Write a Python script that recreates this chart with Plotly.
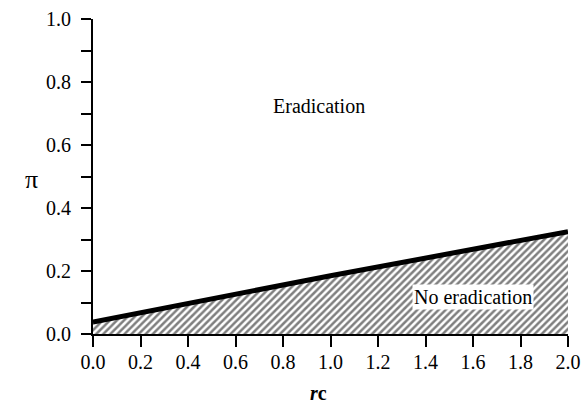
import plotly.graph_objects as go

# data
rc_boundary = [0.0, 1.0, 2.0]
pi_boundary = [0.038, 0.185, 0.325]
x_ticks = [0.0, 0.2, 0.4, 0.6, 0.8, 1.0, 1.2, 1.4, 1.6, 1.8, 2.0]
y_ticks = [0.0, 0.2, 0.4, 0.6, 0.8, 1.0]
region_labels = ["Eradication", "No eradication"]
region_x = [0.95, 1.6]
region_y = [0.725, 0.117]

FONT = "Liberation Serif"

fig = go.Figure()

# hatched region under the boundary
fig.add_trace(go.Scatter(
    x=[rc_boundary[0]] + rc_boundary + [rc_boundary[-1]],
    y=[0.0] + pi_boundary + [0.0],
    fill="toself", mode="none",
    fillcolor="white",
    fillpattern=dict(shape="/", fgcolor="black", bgcolor="white", size=5, solidity=0.5),
    hoverinfo="skip", showlegend=False,
))

# boundary line
fig.add_trace(go.Scatter(
    x=rc_boundary, y=pi_boundary, mode="lines",
    line=dict(color="black", width=5),
    showlegend=False,
))

# region labels
fig.add_annotation(x=region_x[0], y=region_y[0], text=region_labels[0], showarrow=False,
                   font=dict(family=FONT, size=20, color="black"))
fig.add_annotation(x=region_x[1], y=region_y[1], text=region_labels[1], showarrow=False,
                   font=dict(family=FONT, size=20, color="black"), bgcolor="white", borderpad=1)

# axis titles
fig.add_annotation(xref="paper", yref="paper", x=-0.13, y=0.49, text="π", showarrow=False,
                   font=dict(family=FONT, size=26, color="black"), xanchor="center", yanchor="middle")
fig.add_annotation(xref="paper", yref="paper", x=0.475, y=-0.2286, text="<b><i>r</i>c</b>", showarrow=False,
                   font=dict(family=FONT, size=20, color="black"), xanchor="center", yanchor="bottom")

fig.update_xaxes(
    range=[0, 2.0], tickvals=x_ticks, ticktext=[f"{v:.1f}" for v in x_ticks],
    ticks="outside", ticklen=11, tickwidth=2, tickcolor="black", ticklabelstandoff=-2,
    showline=True, linecolor="black", linewidth=2, showgrid=False, zeroline=False,
    tickfont=dict(family=FONT, size=20, color="black"), automargin=False,
)
fig.update_yaxes(
    range=[0, 1.0], tickvals=y_ticks, ticktext=[f"{v:.1f}" for v in y_ticks],
    ticks="outside", ticklen=10, tickwidth=2, tickcolor="black", ticklabelstandoff=6,
    minor=dict(dtick=0.1, ticks="outside", ticklen=10, tickwidth=2, tickcolor="black", showgrid=False),
    showline=True, linecolor="black", linewidth=2, showgrid=False, zeroline=False,
    tickfont=dict(family=FONT, size=20, color="black"), automargin=False,
)

fig.update_layout(
    width=583, height=406,
    margin=dict(l=93, r=15, t=19, b=72),
    paper_bgcolor="white", plot_bgcolor="white",
    showlegend=False,
)

fig.write_html("out.html")
